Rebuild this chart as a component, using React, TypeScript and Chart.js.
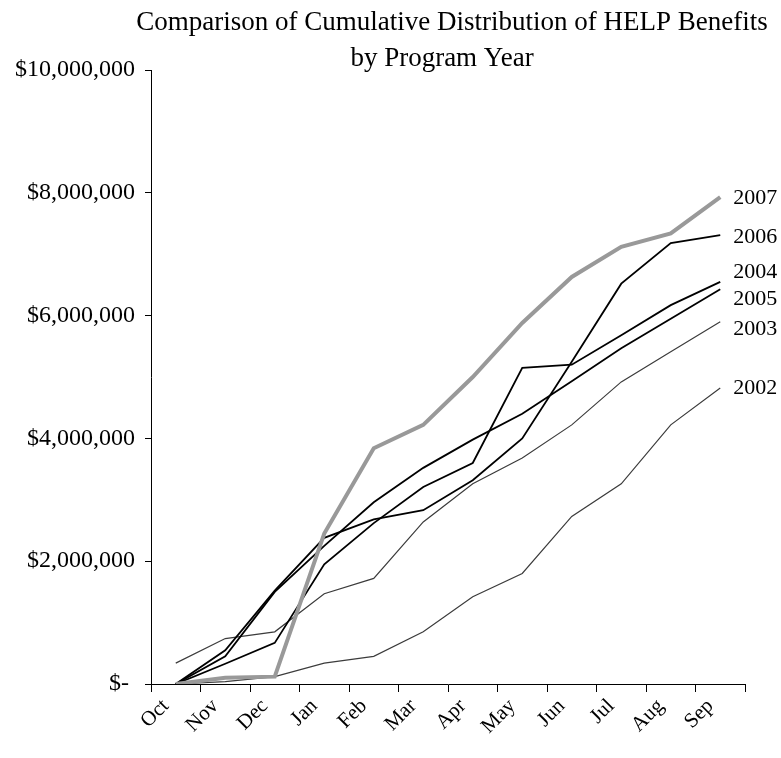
import React, { useEffect, useRef } from 'react';
import { Chart, registerables } from 'chart.js';

Chart.register(...registerables);

const months = ['Oct', 'Nov', 'Dec', 'Jan', 'Feb', 'Mar', 'Apr', 'May', 'Jun', 'Jul', 'Aug', 'Sep'];
const yearLabels = ['2002', '2003', '2004', '2005', '2006', '2007'];

const v2002 = [0, 40000, 120000, 340000, 450000, 850000, 1420000, 1800000, 2730000, 3260000, 4220000, 4820000];
const v2003 = [340000, 740000, 850000, 1470000, 1720000, 2640000, 3260000, 3680000, 4220000, 4920000, 5410000, 5900000];
const v2004 = [0, 330000, 670000, 1950000, 2620000, 3210000, 3600000, 5150000, 5200000, 5680000, 6170000, 6550000];
const v2005 = [0, 450000, 1500000, 2250000, 2960000, 3520000, 3980000, 4400000, 4930000, 5470000, 5950000, 6430000];
const v2006 = [0, 550000, 1520000, 2380000, 2680000, 2830000, 3320000, 4000000, 5250000, 6520000, 7180000, 7310000];
const v2007 = [0, 100000, 120000, 2450000, 3840000, 4220000, 5000000, 5880000, 6630000, 7120000, 7340000, 7930000];

const yTickLabels = ['$- ', '$2,000,000', '$4,000,000', '$6,000,000', '$8,000,000', '$10,000,000'];
const titleLines = ['Comparison of Cumulative Distribution of HELP Benefits', 'by Program Year'];

const FONT = "'Liberation Serif', 'Times New Roman', serif";

export default function App() {
  const ref = useRef<HTMLCanvasElement>(null);

  useEffect(() => {
    const canvas = ref.current;
    if (!canvas) return;
    const seriesValues = [v2002, v2003, v2004, v2005, v2006, v2007];
    const styles = [
      { color: '#3c3c3c', width: 1.2 },
      { color: '#3c3c3c', width: 1.2 },
      { color: '#000000', width: 1.8 },
      { color: '#000000', width: 1.8 },
      { color: '#000000', width: 1.8 },
      { color: '#999999', width: 4 },
    ];
    const labelOffsets = [0, 7, -10, 10, 2, 1];

    const endLabels = {
      id: 'endLabels',
      afterDatasetsDraw(chart: any) {
        const ctx = chart.ctx;
        ctx.save();
        ctx.font = `22px ${FONT}`;
        ctx.fillStyle = '#000';
        ctx.textAlign = 'left';
        ctx.textBaseline = 'middle';
        chart.data.datasets.forEach((ds: any, i: number) => {
          const meta = chart.getDatasetMeta(i);
          const pt = meta.data[meta.data.length - 1];
          if (!pt) return;
          ctx.fillText(ds.label, pt.x + 13, pt.y + labelOffsets[i]);
        });
        ctx.restore();
      },
    };

    const titlePlugin = {
      id: 'customTitle',
      afterDraw(chart: any) {
        const ctx = chart.ctx;
        const ca = chart.chartArea;
        const cx = (ca.left + ca.right) / 2 + 4;
        ctx.save();
        ctx.font = `27px ${FONT}`;
        ctx.fillStyle = '#000';
        ctx.textAlign = 'center';
        ctx.textBaseline = 'middle';
        ctx.fillText(titleLines[0], cx, 23);
        ctx.fillText(titleLines[1], cx - 10, 59);
        ctx.restore();
      },
    };

    const chart = new Chart(canvas, {
      type: 'line',
      data: {
        labels: months,
        datasets: seriesValues.map((vals, i) => ({
          label: yearLabels[i],
          data: vals,
          borderColor: styles[i].color,
          borderWidth: styles[i].width,
          pointRadius: 0,
          tension: 0,
          fill: false,
          order: seriesValues.length - i,
        })),
      },
      options: {
        responsive: false,
        animation: false,
        layout: { padding: { top: 70, right: 36, bottom: 0, left: 0 } },
        plugins: {
          legend: { display: false },
          title: { display: false },
          tooltip: { enabled: false },
        },
        scales: {
          x: {
            type: 'category',
            offset: true,
            grid: {
              offset: true,
              drawOnChartArea: false,
              drawTicks: true,
              tickLength: 8,
              color: '#000',
              lineWidth: 1,
            },
            border: { display: true, color: '#000', width: 1 },
            ticks: {
              autoSkip: false,
              maxRotation: 45,
              minRotation: 45,
              padding: 2,
              labelOffset: -10,
              color: '#000',
              font: { family: FONT, size: 21 },
            },
            afterFit(scale: any) {
              scale.height = 74;
            },
          },
          y: {
            min: 0,
            max: 10000000,
            ticks: {
              stepSize: 2000000,
              padding: 10,
              color: '#000',
              font: { family: FONT, size: 24 },
              callback: (_v: any, idx: number) => yTickLabels[idx],
            },
            grid: {
              drawOnChartArea: false,
              drawTicks: true,
              tickLength: 6,
              color: '#000',
              lineWidth: 1,
            },
            border: { display: true, color: '#000', width: 1 },
            afterFit(scale: any) {
              scale.width = 151;
            },
          },
        },
      },
      plugins: [endLabels, titlePlugin],
    });
    return () => chart.destroy();
  }, []);

  return (
    <div style={{ position: 'absolute', left: 0, top: 0, width: 781, height: 758, background: '#fff' }}>
      <canvas ref={ref} width={781} height={758} style={{ display: 'block', width: 781, height: 758 }} />
    </div>
  );
}
